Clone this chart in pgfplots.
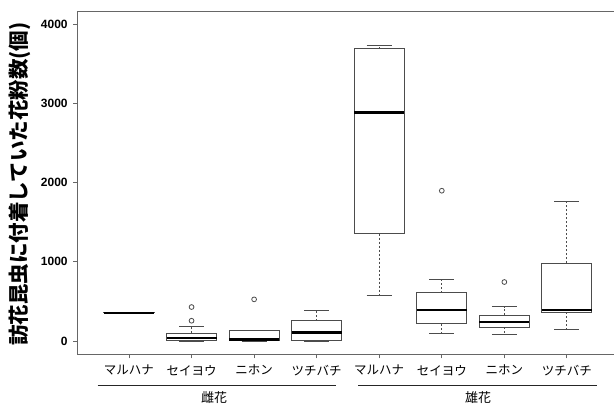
\documentclass[border=0pt]{standalone}
\usepackage{fontspec}
\setmainfont{Liberation Sans}
\newfontfamily\jp{Noto Sans CJK JP}
\usepackage{pgfplots}
\usepgfplotslibrary{statistics}
\pgfplotsset{compat=1.18}
\definecolor{boxc}{gray}{0.3}
\begin{document}
\begin{tikzpicture}
\begin{axis}[
  at={(77.7pt,55pt)}, anchor=south west,
  scale only axis, width=540.5pt, height=342.3pt,
  xmin=0.18, xmax=8.82, ymin=-164, ymax=4159,
  clip=false,
  axis line style={draw=none},
  xtick pos=left, ytick pos=left, tick align=outside, major tick length=4.5pt,
  tick style={black!60, line width=0.9pt},
  xtick={1,2,3,4,5,6,7,8},
  xticklabels={マルハナ,セイヨウ,ニホン,ツチバチ,マルハナ,セイヨウ,ニホン,ツチバチ},
  xticklabel style={font=\jp\fontsize{12.5}{12.5}\selectfont, yshift=-3pt},
  ytick={0,1000,2000,3000,4000},
  /pgf/number format/assume math mode=true,
  /pgf/number format/1000 sep={},
  yticklabel style={font=\fontsize{12}{12}\selectfont\bfseries, xshift=-2pt},
  scaled y ticks=false,
  boxplot/draw direction=y,
  boxplot/box extend=0.8,
  boxplot/whisker extend=0.4,
  boxplot/every box/.style={draw=boxc, line width=1pt, fill=white},
  boxplot/every median/.style={black, line width=2.4pt},
  boxplot/draw/lower whisker/.code={%
    \draw[boxc, line width=0.9pt, dash pattern=on 2pt off 2pt]
      (boxplot box cs:\pgfplotsboxplotvalue{lower quartile},0.5) -- (boxplot box cs:\pgfplotsboxplotvalue{lower whisker},0.5);
    \draw[boxc, line width=1pt]
      (boxplot whisker cs:\pgfplotsboxplotvalue{lower whisker},0) -- (boxplot whisker cs:\pgfplotsboxplotvalue{lower whisker},1);
  },
  boxplot/draw/upper whisker/.code={%
    \draw[boxc, line width=0.9pt, dash pattern=on 2pt off 2pt]
      (boxplot box cs:\pgfplotsboxplotvalue{upper quartile},0.5) -- (boxplot box cs:\pgfplotsboxplotvalue{upper whisker},0.5);
    \draw[boxc, line width=1pt]
      (boxplot whisker cs:\pgfplotsboxplotvalue{upper whisker},0) -- (boxplot whisker cs:\pgfplotsboxplotvalue{upper whisker},1);
  },
  every axis plot/.append style={mark=o, mark size=2.4pt, mark options={boxc, line width=0.8pt, solid}},
]
\draw[black!60, line width=0.9pt] (rel axis cs:1.1,1) -- (rel axis cs:0,1) -- (rel axis cs:0,0) -- (rel axis cs:1.1,0);
% Female
\addplot[boxplot prepared={draw position=1, lower whisker=357, lower quartile=356, median=357, upper quartile=358, upper whisker=357}] coordinates {};
\addplot[boxplot prepared={draw position=2, lower whisker=0, lower quartile=4, median=38, upper quartile=97, upper whisker=181}] coordinates {(0,256) (0,429)};
\addplot[boxplot prepared={draw position=3, lower whisker=0, lower quartile=4, median=21, upper quartile=130, upper whisker=133}] coordinates {(0,526)};
\addplot[boxplot prepared={draw position=4, lower whisker=0, lower quartile=8, median=105, upper quartile=257, upper whisker=388}] coordinates {};
% Male
\addplot[boxplot prepared={draw position=5, lower whisker=577, lower quartile=1355, median=2888, upper quartile=3692, upper whisker=3730}] coordinates {};
\addplot[boxplot prepared={draw position=6, lower whisker=93, lower quartile=215, median=392, upper quartile=610, upper whisker=779}] coordinates {(0,1898)};
\addplot[boxplot prepared={draw position=7, lower whisker=80, lower quartile=173, median=240, upper quartile=328, upper whisker=433}] coordinates {(0,745)};
\addplot[boxplot prepared={draw position=8, lower whisker=143, lower quartile=362, median=392, upper quartile=985, upper whisker=1768}] coordinates {};
\end{axis}
\draw[black!85, line width=1pt] (97.7pt,23pt) -- (336pt,23pt);
\draw[black!85, line width=1pt] (358pt,23pt) -- (597pt,23pt);
\node[font=\jp\fontsize{13}{13}\selectfont] at (214pt,11pt) {雌花};
\node[font=\jp\fontsize{13}{13}\selectfont] at (478pt,11pt) {雄花};
\node[rotate=90, font=\jp\bfseries\fontsize{20.5}{20.5}\selectfont] at (20pt,225pt) {訪花昆虫に付着していた花粉数(個)};
\pgfresetboundingbox
\useasboundingbox (0pt,0pt) rectangle (614pt,409pt);
\end{tikzpicture}
\end{document}
